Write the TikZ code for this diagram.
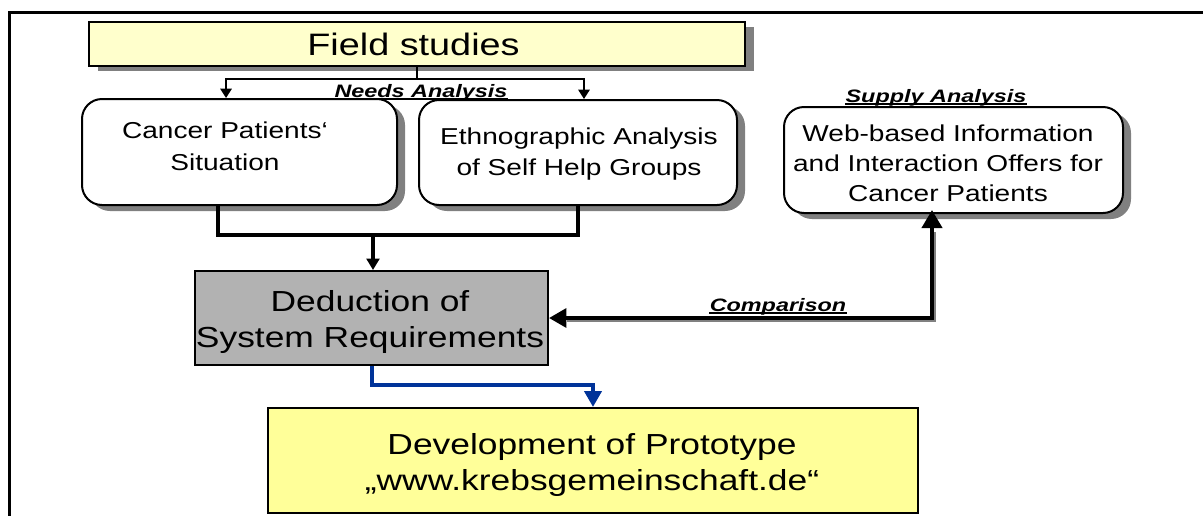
\documentclass[tikz,border=0pt]{standalone}
\usepackage{fontspec}
\setmainfont{Liberation Sans}[FakeStretch=1.22]
\newfontfamily\lblfont{Liberation Sans}[FakeStretch=1.3]
\usetikzlibrary{arrows.meta,shadows}

\definecolor{fieldyellow}{HTML}{FFFFCC}
\definecolor{protoyellow}{HTML}{FFFF99}
\definecolor{dedgray}{HTML}{B2B2B2}
\definecolor{shadowgray}{HTML}{808080}
\definecolor{flowblue}{HTML}{003399}

\tikzset{
  sized/.style 2 args={minimum width=#1*0.75pt, minimum height=#2*0.75pt, inner sep=0pt},
  fieldshadow/.style={general shadow={shadow xshift=6.75pt, shadow yshift=-3.75pt, fill=shadowgray}},
  roundshadow/.style={general shadow={shadow xshift=6pt, shadow yshift=-4.5pt, fill=shadowgray}},
  fieldbox/.style={draw=black, line width=1.5pt, fill=fieldyellow, fieldshadow},
  roundbox/.style={draw=black, line width=1.5pt, fill=white, rounded corners=15pt, roundshadow},
  dedbox/.style={draw=black, line width=1.5pt, fill=dedgray},
  protobox/.style={draw=black, line width=1.5pt, fill=protoyellow},
  boxtext/.style={inner sep=0pt, align=center, text=black},
  bodyfont/.style={font=\fontsize{17.25pt}{#1}\selectfont},
  bigfont/.style={font=\fontsize{21.75pt}{27pt}\selectfont},
  lbl/.style={inner sep=0pt, anchor=base, font=\lblfont\bfseries\itshape\fontsize{13.5pt}{16pt}\selectfont},
  underl/.style={draw=black, line width=1.1pt},
  thinline/.style={draw=black, line width=1.5pt},
  thickline/.style={draw=black, line width=3pt},
  blueline/.style={draw=flowblue, line width=3pt},
  frame/.style={draw=black, line width=1.9pt}
}

\begin{document}
\begin{tikzpicture}[x=0.75pt,y=-0.75pt]
\useasboundingbox (0,0) rectangle (1203,515);

% outer frame (top and left edges)
\draw[frame] (9.3,530) -- (9.3,12.7) -- (1215,12.7);

% boxes
\node[fieldbox, sized={656}{44}] (field) at (417,44) {};
\node[roundbox, sized={315}{106}] (cancer) at (239.5,152) {};
\node[roundbox, sized={318}{105}] (ethno) at (578,152.5) {};
\node[roundbox, sized={339}{106}] (web) at (953.5,160) {};
\node[dedbox, sized={353}{94}] (ded) at (371.5,318) {};
\node[protobox, sized={650}{105}] (dev) at (593,460.5) {};

% box texts
\node[boxtext, font=\fontsize{23.25pt}{28pt}\selectfont] (fieldtext) at (413.5,44) {Field studies};
\node[boxtext, bodyfont=24pt] (cancertext) at (225,146) {Cancer Patients‘\\Situation};
\node[boxtext, bodyfont=23.25pt] (ethnotext) at (579,154) {Ethnographic Analysis\\of Self Help Groups};
\node[boxtext, bodyfont=22.5pt] (webtext) at (948,163.5) {Web-based Information\\and Interaction Offers for\\Cancer Patients};
\node[boxtext, bigfont] (dedtext) at (370,321.5) {Deduction of\\System Requirements};
\node[boxtext, bigfont] (devtext) at (592,464.5) {Development of Prototype\\„www.krebsgemeinschaft.de“};

% needs analysis: field studies splits into the two studies
\coordinate (split) at (417,79);
\draw[thinline] (field.south) -- (split);
\draw[thinline, -{Triangle[width=8.5pt,length=7pt]}] (split) -| ([xshift=-10.1pt]cancer.north);
\draw[thinline, -{Triangle[width=8.5pt,length=7pt]}] (split) -| ([xshift=4.5pt]ethno.north);

% both studies merge into the requirements
\coordinate (merge) at (373,235);
\draw[thickline] ([xshift=-16.1pt]cancer.south) |- (merge) -| (ethno.south);
\draw[thickline, -{Triangle[width=9.5pt,length=8.5pt]}] (merge) -- (merge |- ded.north);

% comparison with the supply analysis
\coordinate (cmp) at (932,318);
\draw[draw=shadowgray, line width=3pt, transform canvas={xshift=1.5pt,yshift=-1.5pt}]
  ([xshift=12pt]ded.east) -- (cmp) -- ([yshift=-12pt]cmp |- web.south);
\draw[thickline, {Triangle[width=14pt,length=13pt]}-{Triangle[width=15pt,length=13.5pt]}, shorten >=-3pt]
  (ded.east) -- (cmp) -- (cmp |- web.south);

% requirements lead to the prototype
\coordinate (bend) at (372,385);
\draw[blueline, -{Triangle[width=12.75pt,length=12pt]}] (ded.south) -- (ded.south |- bend) -| (dev.north);

% connector labels
\node[lbl] (needs) at (421,97) {Needs Analysis};
\draw[underl] ([yshift=-1.5pt]needs.base west) -- ([yshift=-1.5pt]needs.base east);
\node[lbl] (supply) at (936,102) {Supply Analysis};
\draw[underl] ([yshift=-1.5pt]supply.base west) -- ([yshift=-1.5pt]supply.base east);
\node[lbl] (comparison) at (778,311) {Comparison};
\draw[underl] ([yshift=-1.5pt]comparison.base west) -- ([yshift=-1.5pt]comparison.base east);
\end{tikzpicture}
\end{document}
